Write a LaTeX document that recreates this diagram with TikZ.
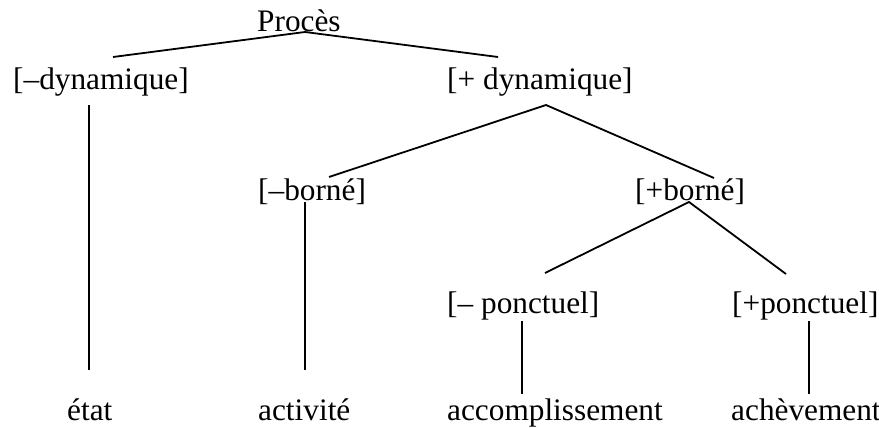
\documentclass[tikz,border=0pt]{standalone}
\usepackage{fontspec}
\setmainfont{Liberation Serif}
\begin{document}
\begin{tikzpicture}[x=1pt,y=-1pt,
  lbl/.style={anchor=base west,inner sep=0pt,font=\fontsize{31.3}{36}\selectfont},
  edge/.style={line width=1.8pt,line cap=butt}]
\useasboundingbox[fill=white] (0,0) rectangle (879,428);
% labels
\node[lbl] (proces) at (257,32) {Procès};
\node[lbl] (mdyn) at (13,90) {[–dynamique]};
\node[lbl] (pdyn) at (447,90) {[+ dynamique]};
\node[lbl] (mborne) at (258,200) {[–borné]};
\node[lbl] (pborne) at (635,200) {[+borné]};
\node[lbl] (mponct) at (447,313) {[– ponctuel]};
\node[lbl] (pponct) at (732,313) {[+ponctuel]};
\node[lbl] (etat) at (67,420) {état};
\node[lbl] (activite) at (258,420) {activité};
\node[lbl] (accompl) at (447,420) {accomplissement};
\node[lbl] (achev) at (731,420) {achèvement};
% connector end points
\coordinate (procesB) at (305,32);
\coordinate (mdynT) at (113,57);
\coordinate (pdynT) at (498,57);
\coordinate (mdynB) at (89,105);
\coordinate (etatT) at (89,370);
\coordinate (pdynB) at (546,105);
\coordinate (mborneT) at (329,177);
\coordinate (pborneT) at (714,178);
\coordinate (mborneB) at (305,202);
\coordinate (activiteT) at (305,370);
\coordinate (pborneB) at (689,202);
\coordinate (mponctT) at (545,273);
\coordinate (pponctT) at (786,274);
\coordinate (mponctB) at (522,321);
\coordinate (accomplT) at (522,394);
\coordinate (pponctB) at (809,321);
\coordinate (achevT) at (809,394);
% connectors
\draw[edge] (mdynT) -- (procesB) -- (pdynT);
\draw[edge] (mdynB) -- (etatT);
\draw[edge] (mborneT) -- (pdynB) -- (pborneT);
\draw[edge] (mborneB) -- (activiteT);
\draw[edge] (mponctT) -- (pborneB) -- (pponctT);
\draw[edge] (mponctB) -- (accomplT);
\draw[edge] (pponctB) -- (achevT);
\end{tikzpicture}
\end{document}
